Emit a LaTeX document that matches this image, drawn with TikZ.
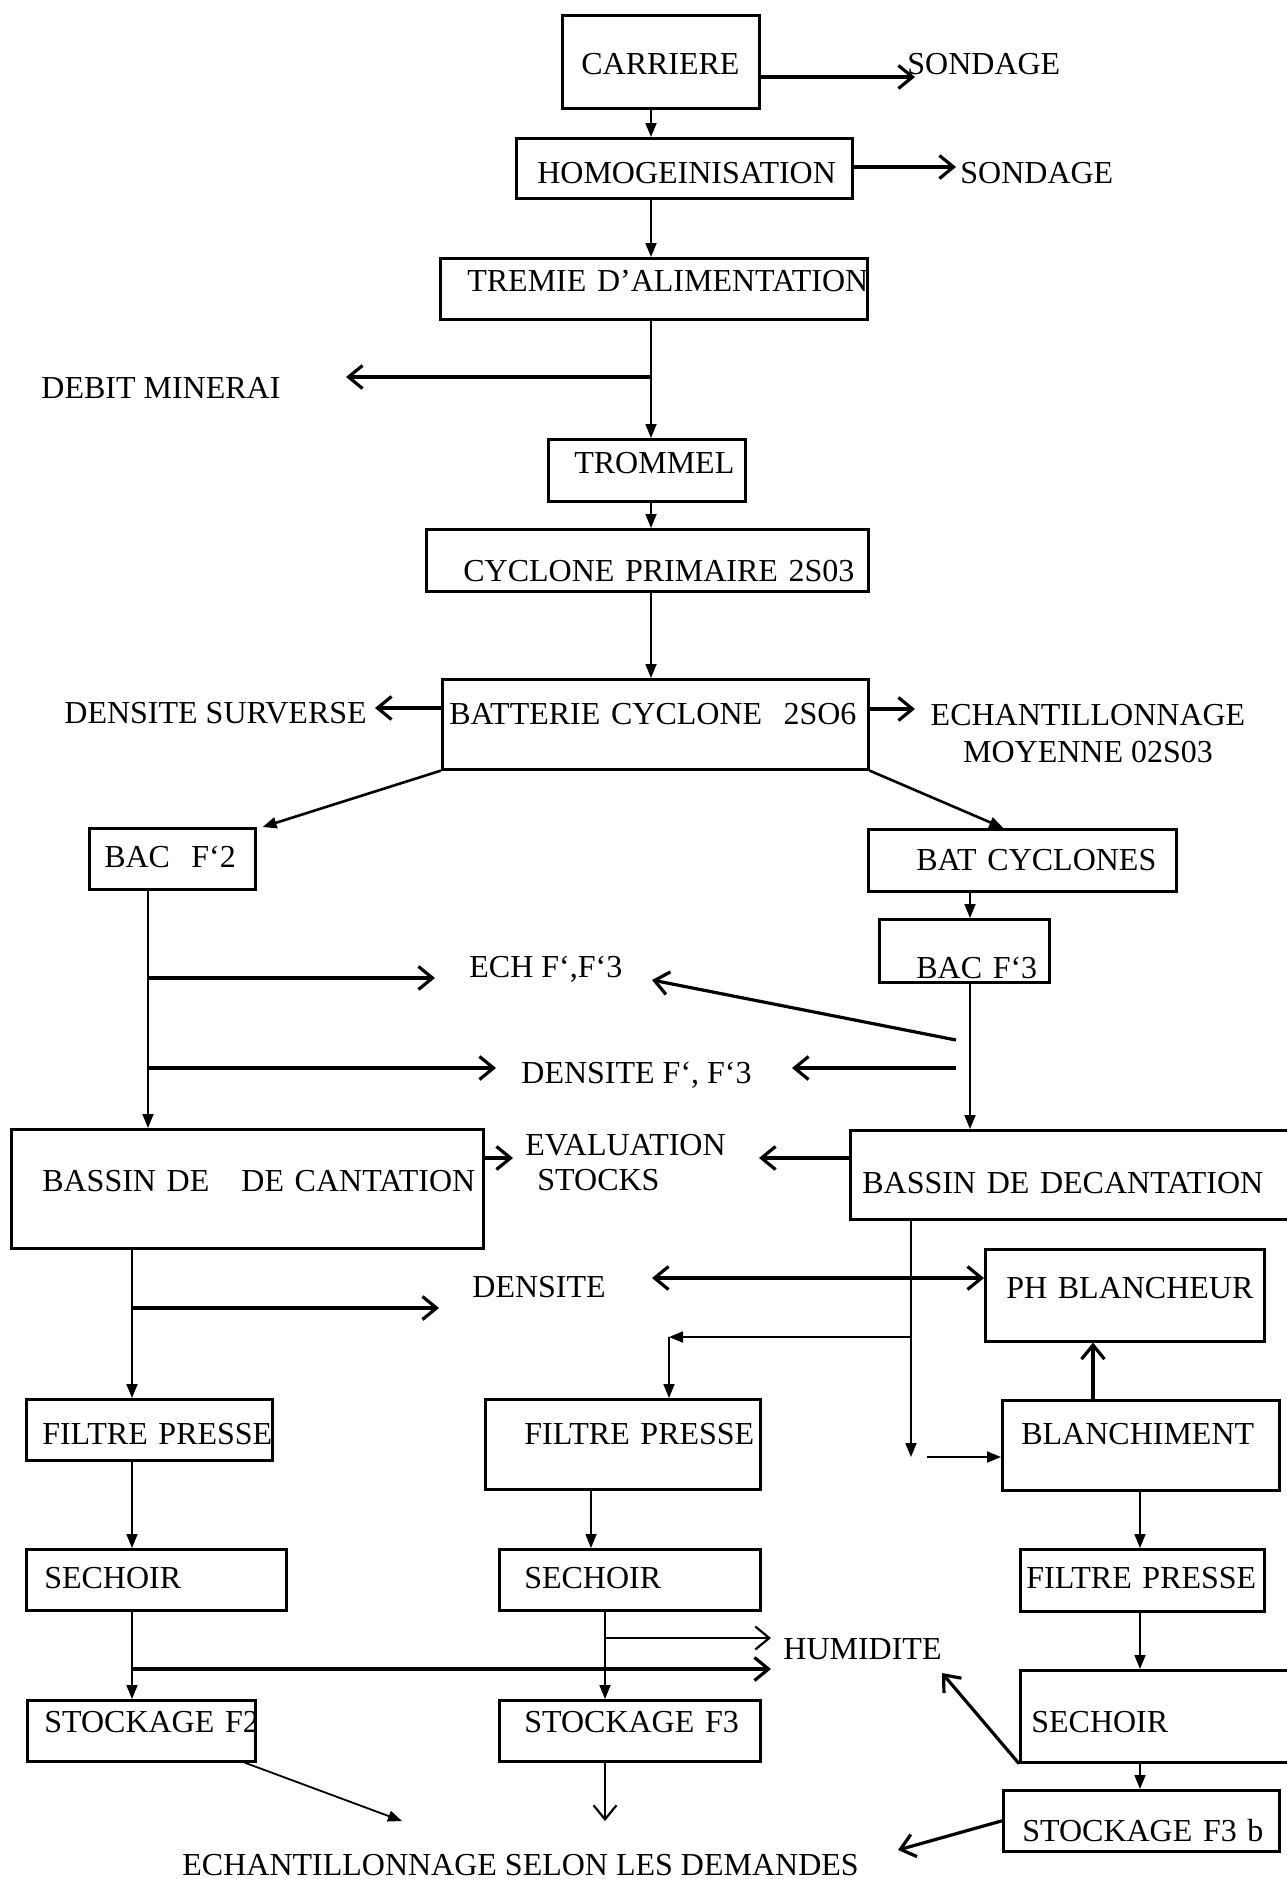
\documentclass[tikz,border=0pt]{standalone}
\usepackage{fontspec}
\setmainfont{Liberation Serif}
\usetikzlibrary{arrows.meta,calc}
\hyphenpenalty=10000
\uchyph=0

\begin{document}
\begin{tikzpicture}[
  x=0.5pt,y=-0.5pt,
  proc/.style={draw,line width=1.3pt,anchor=north west,inner ysep=0pt,align=left,
               font=\fontsize{16}{18}\selectfont},
  note/.style={inner sep=0pt,anchor=base west,font=\fontsize{16}{18}\selectfont},
  arr/.style={-{Triangle[length=7pt,width=5.5pt]},line width=0.9pt},
  oarr/.style={-{Straight Barb[length=7pt,width=11.5pt]},line width=1.6pt},
  darr/.style={{Straight Barb[length=7pt,width=11.5pt]}-{Straight Barb[length=7pt,width=11.5pt]},line width=1.6pt}
]
\useasboundingbox (0,0) rectangle (1286,1879);
% process boxes
\node[proc,inner xsep=9.5pt,text width=79.5pt,text height=29.75pt,text depth=16.75pt] (carr) at (561,14) {CARRIERE};
\node[proc,inner xsep=10.5pt,text width=147pt,text height=22.75pt,text depth=7.25pt] (homog) at (515,137) {HOMOGEINISATION};
\node[proc,inner xsep=13.5pt,text width=186.5pt,text height=16.75pt,text depth=13.75pt] (tremie) at (439,257) {TREMIE~D’ALIMENTATION};
\node[proc,inner xsep=13pt,text width=72.5pt,text height=17.25pt,text depth=13.75pt] (trommel) at (547,438) {TROMMEL};
\node[proc,inner xsep=18.5pt,text width=184pt,text height=26.25pt,text depth=4.75pt] (cycl) at (425,528) {CYCLONE~PRIMAIRE~2S03};
\node[proc,inner xsep=3.5pt,text width=206pt,text height=22.75pt,text depth=22.25pt] (batt) at (441,678) {BATTERIE~CYCLONE~~2SO6};
\node[proc,inner xsep=7.5pt,text width=68pt,text height=19.75pt,text depth=10.75pt] (bacf2) at (88,827) {BAC~~F`2};
\node[proc,inner xsep=24pt,text width=106pt,text height=20.75pt,text depth=10.25pt] (batcyc) at (867,828) {BAT~CYCLONES};
\node[proc,inner xsep=18.5pt,text width=48pt,text height=29.75pt,text depth=1.75pt] (bacf3) at (878,918) {BAC~F`3};
\node[proc,inner xsep=15.5pt,text width=205pt,text height=31.25pt,text depth=28.25pt] (bassl) at (10,1128) {BASSIN~DE~~~DE~CANTATION};
\node[proc,inner xsep=6pt,text width=210.5pt,text height=31.75pt,text depth=12.75pt] (bassr) at (849,1129) {BASSIN~DE~DECANTATION};
\node[proc,inner xsep=10.5pt,text width=118.5pt,text height=24.75pt,text depth=21.25pt] (phbl) at (984,1248) {PH~BLANCHEUR};
\node[proc,inner xsep=8pt,text width=107pt,text height=22.75pt,text depth=7.75pt] (fpl) at (25,1398) {FILTRE~PRESSE};
\node[proc,inner xsep=19.5pt,text width=98.5pt,text height=22.75pt,text depth=22.25pt] (fpm) at (484,1398) {FILTRE~PRESSE};
\node[proc,inner xsep=9.5pt,text width=119.5pt,text height=22.25pt,text depth=22.75pt] (blan) at (1001,1399) {BLANCHIMENT};
\node[proc,inner xsep=9pt,text width=112pt,text height=19.75pt,text depth=10.75pt] (sechl) at (25,1548) {SECHOIR};
\node[proc,inner xsep=12.5pt,text width=105.5pt,text height=19.75pt,text depth=10.75pt] (sechm) at (498,1548) {SECHOIR};
\node[proc,inner xsep=3pt,text width=116pt,text height=19.75pt,text depth=11.25pt] (fpr) at (1019,1548) {FILTRE~PRESSE};
\node[proc,inner xsep=8.5pt,text width=97pt,text height=16.25pt,text depth=14.25pt] (stf2) at (26,1699) {STOCKAGE~F2};
\node[proc,inner xsep=12.5pt,text width=105.5pt,text height=16.25pt,text depth=14.25pt] (stf3) at (498,1699) {STOCKAGE~F3};
\node[proc,inner xsep=5.5pt,text width=126.5pt,text height=31.25pt,text depth=14.75pt] (sechr) at (1019,1669) {SECHOIR};
\node[proc,inner xsep=9.5pt,text width=119pt,text height=25.75pt,text depth=4.75pt] (stf3b) at (1002,1789) {STOCKAGE~F3~b};
% measurements
\node[note] (sond1) at (907,74.5) {SONDAGE};
\node[note] (sond2) at (960,183.5) {SONDAGE};
\node[note] (debit) at (41,398.5) {DEBIT MINERAI};
\node[note] (denssurv) at (64,723.5) {DENSITE SURVERSE};
\node[note,anchor=base,align=center,font=\fontsize{16}{18.5}\selectfont] (echmoy) at (1088,762.5) {ECHANTILLONNAGE\\MOYENNE 02S03};
\node[note] (echf) at (469,977.5) {ECH F`,F`3};
\node[note] (densf) at (521,1083.5) {DENSITE F`, F`3};
\node[note,align=left,font=\fontsize{16}{17.5}\selectfont] (evalst) at (525,1190.5) {EVALUATION\\\hspace*{6pt}STOCKS};
\node[note] (dens) at (472,1297.5) {DENSITE};
\node[note] (humid) at (783,1659.5) {HUMIDITE};
\node[note] (echdem) at (182,1875.5) {ECHANTILLONNAGE SELON LES DEMANDES};
% main line
\coordinate (spine) at (651,0);
\draw[arr] (carr.south -| spine) -- (homog.north -| spine);
\draw[arr] (homog.south -| spine) -- (tremie.north -| spine);
\draw[arr] (tremie.south -| spine) -- (trommel.north -| spine);
\draw[arr] (trommel.south -| spine) -- (cycl.north -| spine);
\draw[arr] (cycl.south -| spine) -- (batt.north -| spine);
\coordinate (s1) at (915,77);  \draw[oarr] (carr.east |- s1) -- (s1);
\coordinate (s2) at (956,167); \draw[oarr] (homog.east |- s2) -- (s2);
\coordinate (dm) at (346,377); \draw[oarr] (spine |- dm) -- (dm);
\coordinate (ds) at (375,708); \draw[oarr] (batt.west |- ds) -- (ds);
\coordinate (em) at (915,709); \draw[oarr] (batt.east |- em) -- (em);
\draw[arr,line width=1.3pt] (batt.south west) -- ($(bacf2.north east)+(6,0)$);
\draw[arr,line width=1.3pt] (batt.south east) -- ($(batcyc.north)+(-19,0)$);
% F'2 / F'3 lines
\coordinate (rsp) at (970,0);
\draw[arr] (batcyc.south -| rsp) -- (bacf3.north -| rsp);
\draw[arr] (bacf3.south -| rsp) -- (bassr.north -| rsp);
\coordinate (lsp) at (148,0);
\draw[arr] (bacf2.south -| lsp) -- (bassl.north -| lsp);
\coordinate (e1) at (435,978); \draw[oarr] (lsp |- e1) -- (e1);
\coordinate (e2) at (956,1040); \coordinate (e3) at (652,980); \draw[oarr] (e2) -- (e3);
\coordinate (f1) at (496,1068); \draw[oarr] (lsp |- f1) -- (f1);
\coordinate (f2) at (956,1068); \coordinate (f3) at (792,1068); \draw[oarr] (f2) -- (f3);
\coordinate (v1) at (513,1158); \draw[oarr] (bassl.east |- v1) -- (v1);
\coordinate (v2) at (759,1158); \draw[oarr] (bassr.west |- v2) -- (v2);
% left branch
\coordinate (lsp2) at (132,0);
\draw[arr] (bassl.south -| lsp2) -- (fpl.north -| lsp2);
\coordinate (dd) at (439,1308); \draw[oarr] (lsp2 |- dd) -- (dd);
\draw[arr] (fpl.south -| lsp2) -- (sechl.north -| lsp2);
\draw[arr] (sechl.south -| lsp2) -- (stf2.north -| lsp2);
\coordinate (h2) at (771,1669); \draw[oarr] (lsp2 |- h2) -- (h2);
\coordinate (t1) at (402,1821); \draw[arr] ($(stf2.south east)+(-12,0)$) -- (t1);
% middle and right branches
\coordinate (p1) at (652,1278); \draw[darr] (p1) -- (phbl.west |- p1);
\coordinate (msp) at (911,0);
\coordinate (m1) at (911,1457); \draw[arr] (bassr.south -| msp) -- (m1);
\coordinate (m2) at (927,1457); \draw[arr] (m2) -- (blan.west |- m2);
\coordinate (b1) at (669,1337); \draw[arr] (msp |- b1) -- (b1);
\draw[arr] (b1) -- (fpm.north -| b1);
\coordinate (bx) at (1093,0); \draw[oarr] (blan.north -| bx) -- (phbl.south -| bx);
\coordinate (msp2) at (591,0); \draw[arr] (fpm.south -| msp2) -- (sechm.north -| msp2);
\coordinate (msp3) at (605,0); \draw[arr] (sechm.south -| msp3) -- (stf3.north -| msp3);
\coordinate (h1) at (771,1638); \draw[oarr,line width=1.1pt] (msp3 |- h1) -- (h1);
\coordinate (t2) at (605,1821); \draw[oarr,line width=1.1pt] (stf3.south -| msp3) -- (t2);
\coordinate (rsp2) at (1140,0);
\draw[arr] (blan.south -| rsp2) -- (fpr.north -| rsp2);
\draw[arr] (fpr.south -| rsp2) -- (sechr.north -| rsp2);
\draw[arr] (sechr.south -| rsp2) -- (stf3b.north -| rsp2);
\coordinate (h3) at (942,1673); \draw[oarr] (sechr.south west) -- (h3);
\coordinate (t3) at (898,1850); \draw[oarr] (stf3b.west) -- (t3);
\end{tikzpicture}
\end{document}
